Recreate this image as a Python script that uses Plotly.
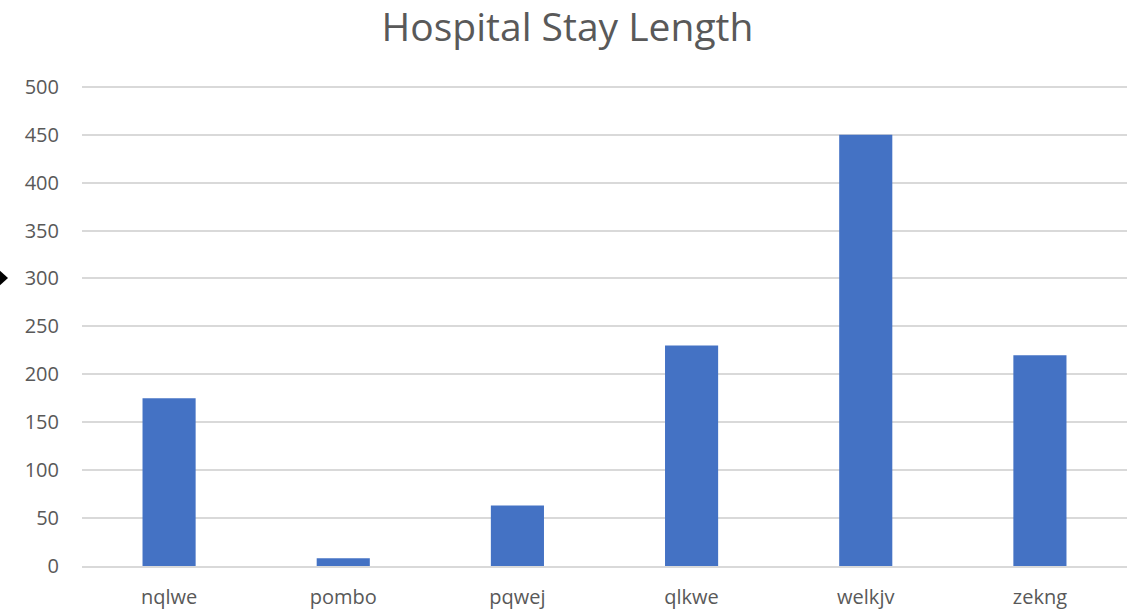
import plotly.graph_objects as go

# Hospital stay length by ward code
categories = ["nqlwe", "pombo", "pqwej", "qlkwe", "welkjv", "zekng"]
stay_length = [175, 8, 63, 230, 450, 220]
y_ticks = [0, 50, 100, 150, 200, 250, 300, 350, 400, 450, 500]

FONT = "Open Sans"
GREY = "#595959"

fig = go.Figure(
    go.Bar(
        x=categories,
        y=stay_length,
        marker=dict(color="#4472C4", line=dict(width=0)),
    )
)

L, R, T, B = 82, 8, 82, 45
W, H = 1135, 611
pw = W - L - R
ph = H - T - B

fig.update_layout(
    width=W,
    height=H,
    margin=dict(l=L, r=R, t=T, b=B, autoexpand=False),
    paper_bgcolor="white",
    plot_bgcolor="white",
    bargap=0.695,
    showlegend=False,
    title=dict(
        text="Hospital Stay Length",
        x=0.5,
        xanchor="center",
        y=1 - 27 / H,
        yanchor="middle",
        font=dict(family=FONT, size=39, color=GREY),
    ),
    xaxis=dict(
        automargin=False,
        showgrid=False,
        showline=True,
        linecolor="#d9d9d9",
        linewidth=1.5,
        ticks="",
        tickfont=dict(family=FONT, size=20, color=GREY),
        ticklabelstandoff=12,
    ),
    yaxis=dict(
        automargin=False,
        range=[0, 505],
        tickvals=y_ticks,
        showgrid=True,
        gridcolor="#d9d9d9",
        gridwidth=1.5,
        zeroline=False,
        showline=False,
        ticks="",
        tickfont=dict(family=FONT, size=20, color=GREY),
        ticklabelstandoff=22,
    ),
)

# small black pointer at the left edge
px = lambda v: (v - L) / pw
py = lambda v: 1 - (v - T) / ph
fig.add_shape(
    type="path",
    xref="paper",
    yref="paper",
    path=f"M {px(-2)} {py(269)} L {px(8)} {py(278)} L {px(-2)} {py(287)} Z",
    fillcolor="black",
    line=dict(width=0),
)

fig.write_html("out.html")
